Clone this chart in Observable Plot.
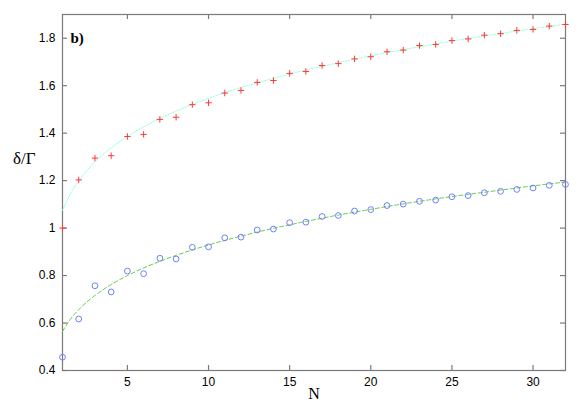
<!DOCTYPE html>
<html>
<head>
<meta charset="utf-8">
<script src="https://cdn.jsdelivr.net/npm/d3@7"></script>
<script src="https://cdn.jsdelivr.net/npm/@observablehq/plot@0.6"></script>
<style>
  html, body { margin: 0; padding: 0; background: #fff; }
  svg { display: block; }
</style>
</head>
<body>
<div id="chart"></div>
<script>
// Data
const N = [1,2,3,4,5,6,7,8,9,10,11,12,13,14,15,16,17,18,19,20,21,22,23,24,25,26,27,28,29,30,31,32];
const plusValues = [1.000,1.203,1.295,1.305,1.386,1.395,1.458,1.467,1.520,1.528,1.569,1.580,1.614,1.622,1.652,1.660,1.685,1.693,1.713,1.722,1.743,1.750,1.769,1.774,1.790,1.797,1.813,1.819,1.833,1.837,1.851,1.858];
const circleValues = [0.456,0.617,0.757,0.731,0.819,0.808,0.873,0.870,0.919,0.921,0.959,0.962,0.992,0.996,1.023,1.025,1.049,1.053,1.072,1.078,1.095,1.101,1.113,1.118,1.132,1.137,1.149,1.155,1.163,1.169,1.180,1.184];
const curveN = [1,1.5,2,2.5,3,4,5,6,7,8,10,12,14,16,18,20,22,24,26,28,30,32];
const cyanCurve = [1.075,1.146,1.199,1.242,1.279,1.338,1.386,1.427,1.462,1.493,1.547,1.592,1.631,1.666,1.697,1.726,1.752,1.776,1.799,1.820,1.840,1.859];
const greenCurve = [0.565,0.617,0.656,0.689,0.716,0.762,0.800,0.832,0.860,0.885,0.929,0.966,0.999,1.028,1.055,1.079,1.102,1.123,1.142,1.160,1.178,1.194];
const xTicks = [5,10,15,20,25,30];
const yTicks = [0.4,0.6,0.8,1,1.2,1.4,1.6,1.8];
const yTickLabels = ["0.4","0.6","0.8","1","1.2","1.4","1.6","1.8"];

const plusData = N.map((n,i) => ({n, v: plusValues[i]}));
const circleData = N.map((n,i) => ({n, v: circleValues[i]}));
const cyanData = curveN.map((n,i) => ({n, v: cyanCurve[i]}));
const greenData = curveN.map((n,i) => ({n, v: greenCurve[i]}));

const thinPlus = {
  draw(ctx, size) {
    const r = Math.sqrt(size / Math.PI);
    ctx.moveTo(-r, 0); ctx.lineTo(r, 0);
    ctx.moveTo(0, -r); ctx.lineTo(0, r);
  }
};

const W = 581, H = 407, ML = 62, MR = 16, MT = 14, MB = 37;
const FW = W - ML - MR, FH = H - MT - MB, TL = 5;

const gray = "#7a7a7a";
const sans = "Liberation Sans, Arial, sans-serif";
const serif = "Liberation Serif, Times New Roman, serif";
const tickStyle = {stroke: gray, strokeWidth: 1.2};

const chart = Plot.plot({
  width: W,
  height: H,
  marginLeft: ML,
  marginRight: MR,
  marginTop: MT,
  marginBottom: MB,
  style: {fontFamily: sans, fontSize: "12px", color: "#000", background: "#fff"},
  x: {domain: [1, 32]},
  y: {domain: [0.4, 1.9]},
  marks: [
    Plot.frame({stroke: gray, strokeWidth: 1.2, fill: "none"}),
    // inward ticks (mirrored on all four sides)
    Plot.tickX(xTicks, {x: d => d, insetTop: FH - TL, ...tickStyle}),
    Plot.tickX(xTicks, {x: d => d, insetBottom: FH - TL, ...tickStyle}),
    Plot.tickY(yTicks, {y: d => d, insetRight: FW - TL, ...tickStyle}),
    Plot.tickY(yTicks, {y: d => d, insetLeft: FW - TL, ...tickStyle}),
    // tick labels
    Plot.axisX(xTicks, {anchor: "bottom", tickSize: 0, tickPadding: 7, fontSize: 12, fill: "#000", label: null}),
    Plot.axisY(yTicks, {anchor: "left", tickSize: 0, tickPadding: 7, fontSize: 12, fill: "#000", label: null,
      tickFormat: (d, i) => yTickLabels[i]}),
    // fit curves
    Plot.line(cyanData, {x: "n", y: "v", stroke: "#8fffdc", strokeWidth: 1, strokeDasharray: "1.2,1.5", curve: "monotone-x"}),
    Plot.line(greenData, {x: "n", y: "v", stroke: "#6cc94c", strokeWidth: 1, strokeDasharray: "4,2.5", curve: "monotone-x"}),
    // data points
    Plot.dot(plusData, {x: "n", y: "v", symbol: thinPlus, r: 3.2, stroke: "#ff3838", strokeWidth: 1, fill: "none"}),
    Plot.dot(circleData, {x: "n", y: "v", symbol: "circle", r: 2.9, stroke: "#7080ff", strokeWidth: 1, fill: "none"}),
    // labels
    Plot.text(["b)"], {frameAnchor: "top-left", dx: 8, dy: 18, fontFamily: serif, fontWeight: "bold", fontSize: 15, fill: "#000", textAnchor: "start"}),
    Plot.text(["N"], {frameAnchor: "bottom", dy: 28, fontFamily: serif, fontSize: 16, fill: "#000"}),
    Plot.text(["δ/Γ"], {frameAnchor: "left", dx: -27, dy: -34, fontFamily: serif, fontSize: 17, fill: "#000", textAnchor: "end"})
  ]
});
document.getElementById("chart").appendChild(chart);
</script>
</body>
</html>
